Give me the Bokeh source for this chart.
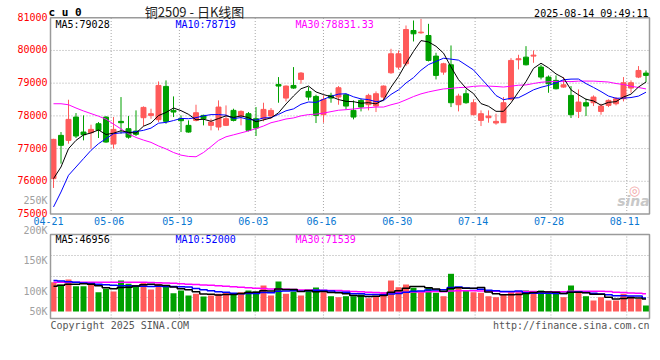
from bokeh.plotting import figure
from bokeh.models import Range1d, LinearAxis, Label, ColumnDataSource
from bokeh.embed import file_html
from bokeh.resources import INLINE

# ---------------- data ----------------
opens = [76081, 77404, 77251, 77964, 77506, 77486, 77760, 77964, 77139, 77832,
         77608, 77536, 77944, 78015, 77883, 78901, 78168, 77913, 77710, 77862,
         78015, 77710, 77659, 77710, 78168, 77995, 78066, 77913, 77913, 77995,
         78962, 78544, 78931, 79114, 78748, 78595, 78035, 78626, 78575, 78646,
         78168, 78473, 78341, 78300, 78575, 79318, 79491, 79593, 80611, 80540,
         80458, 79827, 79338, 79562, 78341, 78677, 78035, 77862, 77944, 77781,
         77791, 78504, 79715, 79796, 79827, 79491, 79186, 79084, 78880, 78626,
         78137, 78402, 78402, 78137, 78320, 78371, 78524, 78850, 79186, 79308]
highs = [77300, 77506, 78493, 78086, 78015, 77730, 77811, 77990, 77964, 78575,
         77995, 78168, 78290, 78219, 79053, 79084, 78595, 78015, 77862, 78341,
         78035, 77913, 78473, 78320, 78219, 78168, 78117, 78269, 78402, 78239,
         79186, 78931, 79491, 79338, 78880, 78646, 78626, 78707, 78911, 78677,
         78473, 78524, 78677, 78748, 78931, 80051, 80000, 80764, 80916, 80967,
         80814, 79929, 79623, 80153, 78677, 78809, 78504, 78168, 78168, 78066,
         78575, 79766, 79868, 80132, 80000, 79562, 79236, 79236, 79186, 78911,
         78809, 78524, 78626, 78371, 78504, 78575, 79186, 79084, 79522, 79389]
lows = [75796, 76539, 77150, 77323, 77251, 76997, 77323, 77180, 76997, 77455,
        77302, 77384, 77679, 77913, 77811, 77760, 77964, 77506, 77486, 77832,
        77710, 77557, 77557, 77689, 77832, 77710, 77526, 77384, 77832, 77913,
        78402, 78442, 78829, 78982, 78473, 77781, 77791, 78402, 78341, 78198,
        77893, 78137, 78168, 78117, 78473, 79287, 79420, 79522, 80275, 80509,
        79664, 79114, 79257, 78269, 78137, 78371, 78015, 77689, 77791, 77730,
        77791, 78473, 79420, 79542, 79623, 79114, 78707, 78809, 78860, 77934,
        77934, 77995, 78300, 78035, 78269, 78320, 78442, 78707, 79155, 79033]
closes = [77282, 77099, 77893, 77384, 77424, 77587, 77557, 77200, 77587, 77791,
          77350, 77435, 78259, 78066, 78931, 77832, 78117, 77852, 77506, 78096,
          77913, 77811, 78269, 77913, 77862, 78137, 77557, 77628, 78198, 78168,
          78911, 78911, 78850, 79308, 78575, 78015, 78504, 78544, 78860, 78300,
          77964, 78269, 78626, 78677, 78911, 79898, 79898, 80641, 80509, 80560,
          79695, 79237, 79593, 78402, 78605, 78402, 78402, 78066, 77995, 77832,
          78402, 79695, 79746, 79562, 79857, 79186, 78982, 78829, 78951, 78035,
          78422, 78300, 78575, 78300, 78473, 78524, 79013, 79013, 79389, 79237]
volumes = [111300, 101500, 121600, 96100, 96100, 101500, 73300, 86300, 76000, 117800,
           105300, 98800, 111300, 83600, 105300, 96100, 69500, 79800, 60800, 67300,
           57000, 60800, 67300, 71100, 67300, 73300, 79800, 76000, 98800, 60800,
           114000, 67300, 76000, 60800, 79800, 91200, 73300, 58100, 54300, 58100,
           58100, 64600, 50500, 58100, 73300, 117800, 92300, 102600, 90100, 73300,
           92300, 71100, 58100, 143300, 88500, 79800, 73300, 71100, 58100, 54300,
           63500, 73300, 73300, 79800, 71100, 79800, 67300, 67300, 54300, 98800,
           76000, 58100, 41800, 54300, 41800, 41800, 67300, 58100, 48300, 22800]

# moving-average values before enough bars exist
ma5_head = [76081, 76437, 76997, 77251]
ma10_head = [75215, 75673, 76183, 76437, 76692, 76946, 77150, 77302, 77455]
ma30_head = [78371, 78371, 78340, 78240, 78150, 78070, 77990, 77900, 77750, 77600,
             77450, 77340, 77260, 77190, 77080, 76990, 76880, 76800, 76760, 76750,
             76880, 77060, 77250, 77360, 77420, 77480, 77540, 77610, 77690]
vma5_head = [96000, 100000, 104000, 104000]
vma10_head = [118000, 116000, 113000, 111000, 108000, 106000, 104000, 102000, 100000]
vma30_head = [111000] * 13 + [110000, 109000, 108000, 107000, 105500, 104000, 102500,
                               101000, 99500, 98000, 96000, 94000, 92000, 90000, 88500, 87000]

date_labels = ["04-21", "05-06", "05-19", "06-03", "06-16", "06-30", "07-14", "07-28", "08-11"]
date_index = [0, 8, 17, 27, 36, 46, 56, 66, 76]
price_ticks = [75000, 76000, 77000, 78000, 79000, 80000, 81000]
vol_tick_text = ["250K", "200K", "150K", "100K", "50K"]
ma_price_text = ["MA5:79028", "MA10:78719", "MA30:78831.33"]
ma_vol_text = ["MA5:46956", "MA10:52000", "MA30:71539"]
title_text = "铜2509 - 日K线图"
symbol_text = "c u 0"
time_text = "2025-08-14 09:49:11"

# ---------------- derived ----------------
N = len(closes)
xs = list(range(N))


def moving(vals, head, n):
    out = []
    for i in range(len(vals)):
        if i < n - 1:
            out.append(head[i])
        else:
            out.append(sum(vals[i - n + 1:i + 1]) / n)
    return out


ma5 = moving(closes, ma5_head, 5)
ma10 = moving(closes, ma10_head, 10)
ma30 = moving(closes, ma30_head, 30)
vma5 = moving(volumes, vma5_head, 5)
vma10 = moving(volumes, vma10_head, 10)
vma30 = moving(volumes, vma30_head, 30)

RED = "#ff5a5a"
GREEN = "#00a000"
colors = [RED if c >= o else GREEN for o, c in zip(opens, closes)]
src = ColumnDataSource(dict(
    x=xs, o=opens, c=closes, h=highs, l=lows,
    top=[max(o, c) for o, c in zip(opens, closes)],
    bottom=[min(o, c) for o, c in zip(opens, closes)],
    color=colors, vol=volumes))

# ---------------- layout geometry (pixels) ----------------
W, H = 652, 340
STEP = 7.5            # px per trading day
X_FIRST = 53          # px of the first candle
PRICE_TOP_PX, PRICE_BOT_PX = 17.25, 213.5
VOL_ZERO_PX, VOL_PER_PX = 311, 3800
VOL_TOP_PX, VOL_BOT_PX = 234, 318

X0 = (50 - X_FIRST) / STEP
X1 = (649 - X_FIRST) / STEP
grid_x = [X0 + i * (X1 - X0) / (N - 1) for i in date_index]

ppp = (price_ticks[-1] - price_ticks[0]) / (PRICE_BOT_PX - PRICE_TOP_PX)   # price per px
y_top = price_ticks[-1] + PRICE_TOP_PX * ppp
y_bot = price_ticks[0] - (H - PRICE_BOT_PX) * ppp
v_top = VOL_ZERO_PX * VOL_PER_PX
v_bot = -(H - VOL_ZERO_PX) * VOL_PER_PX
vol_lo = -(VOL_BOT_PX - VOL_ZERO_PX) * VOL_PER_PX
vol_hi = (VOL_ZERO_PX - VOL_TOP_PX) * VOL_PER_PX

MONO = "DejaVu Sans Mono"
GRID_COLOR = "#a8a8a8"
BORDER = "#9a9a9a"

p = figure(width=W, height=H, output_backend="svg", toolbar_location=None,
           x_range=Range1d(-X_FIRST / STEP, (W - X_FIRST) / STEP),
           y_range=Range1d(y_bot, y_top),
           x_axis_location=None, y_axis_location=None,
           min_border=0, min_border_left=0, min_border_right=0,
           min_border_top=0, min_border_bottom=0)
p.extra_y_ranges = {"vol": Range1d(v_bot, v_top)}
p.outline_line_color = None
p.background_fill_color = "white"
p.border_fill_color = "white"
p.xgrid.visible = False
p.ygrid.visible = False

DOT = "1 2"
# ---- price panel grid ----
p.segment(x0=[X0] * 5, x1=[X1] * 5, y0=price_ticks[1:-1], y1=price_ticks[1:-1],
          line_color=GRID_COLOR, line_dash=DOT, line_width=1)
p.segment(x0=grid_x[1:], x1=grid_x[1:], y0=[price_ticks[0]] * 8, y1=[price_ticks[-1]] * 8,
          line_color=GRID_COLOR, line_dash=DOT, line_width=1)
# ---- volume panel grid ----
vgrid = [vol_lo + k * (vol_hi - vol_lo) / 4 for k in (1, 2, 3)]
p.segment(x0=[X0] * 3, x1=[X1] * 3, y0=vgrid, y1=vgrid, y_range_name="vol",
          line_color=GRID_COLOR, line_dash=DOT, line_width=1)
p.segment(x0=grid_x[1:], x1=grid_x[1:], y0=[vol_lo] * 8, y1=[vol_hi] * 8, y_range_name="vol",
          line_color=GRID_COLOR, line_dash=DOT, line_width=1)

# ---- candles ----
p.segment(x0="x", y0="l", x1="x", y1="h", line_color="color", line_width=1, source=src)
p.vbar(x="x", width=0.66, top="top", bottom="bottom", fill_color="color",
       line_color="color", line_width=1, source=src)
p.line(xs, ma30, line_color="#ff00ff", line_width=1)
p.line(xs, ma10, line_color="#0000ff", line_width=1)
p.line(xs, ma5, line_color="#000000", line_width=1)

# ---- volume ----
p.vbar(x="x", width=0.8, top="vol", bottom=0, fill_color="color", line_color=None,
       source=src, y_range_name="vol")
p.step(xs, vma30, mode="center", line_color="#ff00ff", line_width=1.5, y_range_name="vol")
p.step(xs, vma10, mode="center", line_color="#0000ff", line_width=1.5, y_range_name="vol")
p.step(xs, vma5, mode="center", line_color="#000000", line_width=1.5, y_range_name="vol")

# ---- panel borders ----
p.quad(left=[X0], right=[X1], bottom=[price_ticks[0]], top=[price_ticks[-1]],
       fill_color=None, line_color=BORDER, line_width=1.5)
p.quad(left=[X0], right=[X1], bottom=[vol_lo], top=[vol_hi], y_range_name="vol",
       fill_color=None, line_color=BORDER, line_width=1.5)


# ---- texts ----
def lab(x, y, text, color="#000000", size="10px", align="left", font=MONO, style="normal",
        x_units="screen", y_units="screen"):
    """x, y in page pixels from top-left when units are screen."""
    xx = x
    yy = (H - y) if y_units == "screen" else y
    p.add_layout(Label(x=xx, y=yy, x_units=x_units, y_units=y_units, text=text,
                       text_color=color, text_font=font, text_font_size=size,
                       text_align=align, text_baseline="middle", text_font_style=style))


for t in price_ticks:
    p.add_layout(Label(x=47, y=t, x_units="screen", y_units="data", y_offset=1,
                       text=str(t), text_color="#ff0000", text_font=MONO,
                       text_font_size="10px", text_align="right", text_baseline="middle"))
for gx, t in zip(grid_x, date_labels):
    p.add_layout(Label(x=gx, y=H - 220, x_units="data", y_units="screen", x_offset=-2,
                       text=t, text_color="#0a78d2", text_font=MONO,
                       text_font_size="10px", text_align="center", text_baseline="middle"))

lab(48, 12, symbol_text, size="11px", style="bold")
lab(194, 10.5, title_text, color="#222222", size="13px", align="center", font="Noto Sans CJK SC")
lab(648, 12.5, time_text, align="right")
lab(55, 24, ma_price_text[0], color="#000000")
lab(175, 24, ma_price_text[1], color="#0000ff")
lab(295, 24, ma_price_text[2], color="#ff00ff")
lab(55, 239, ma_vol_text[0], color="#000000")
lab(175, 239, ma_vol_text[1], color="#0000ff")
lab(295, 239, ma_vol_text[2], color="#ff00ff")
for t, yy in zip(vol_tick_text, [200, 230, 260, 290.5, 311]):
    lab(47, yy, t, color="#a0a0a0", align="right")
lab(50, 324.5, "Copyright 2025 SINA.COM", color="#555555")
lab(649, 324.5, "http://finance.sina.com.cn", color="#555555", align="right")
# sina watermark
lab(634, 190, "◎", color="#f2a8a8", size="13px", align="center", font="DejaVu Sans")
lab(633, 200, "sina", color="#c8c8c8", size="14px", align="center", font="DejaVu Sans",
    style="bold italic")

open("out.html", "w").write(file_html(p, INLINE))
